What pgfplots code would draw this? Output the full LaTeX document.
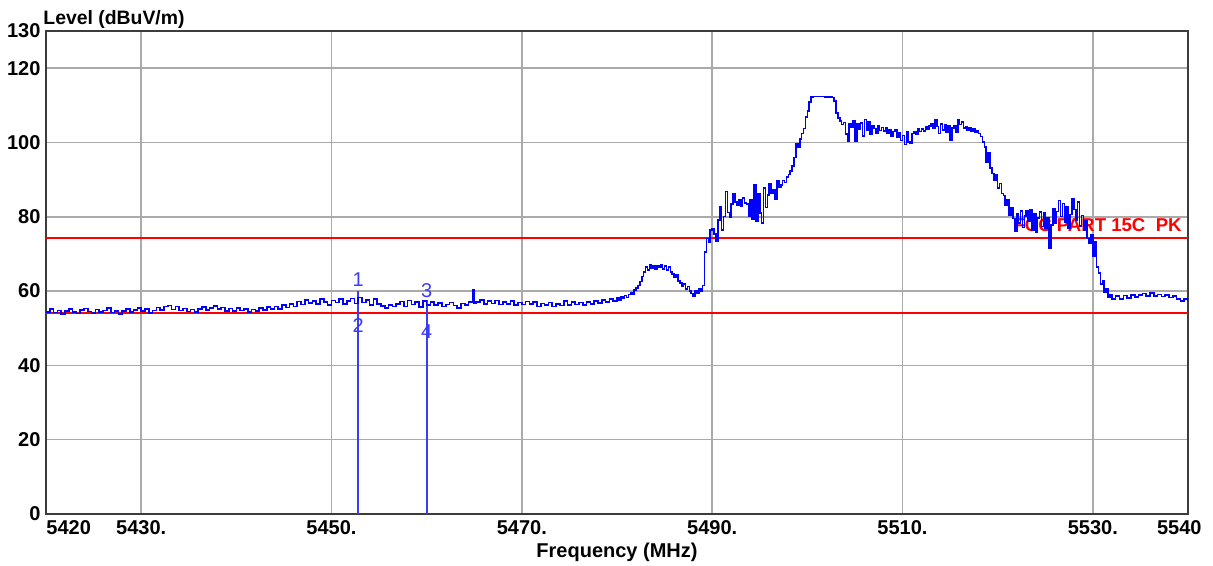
\documentclass[border=0pt]{standalone}
\usepackage{fontspec}
\setmainfont{Liberation Sans}
\usepackage{pgfplots}
\pgfplotsset{compat=1.18}
\definecolor{gridgray}{RGB}{170,170,170}
\definecolor{framegray}{RGB}{60,60,60}
\definecolor{trace}{RGB}{0,0,255}
\definecolor{mkblue}{RGB}{60,60,245}
\definecolor{limitred}{RGB}{255,0,0}
\begin{document}
\begin{tikzpicture}
\path[use as bounding box] (-23pt,-26pt) rectangle (583.5pt,257pt);
\begin{axis}[
  name=ax, at={(0,0)}, anchor=south west,
  scale only axis, width=571pt, height=241.5pt,
  xmin=5420, xmax=5540, ymin=0, ymax=130,
  xtick={5430,5450,5470,5490,5510,5530},
  xticklabels={5430.,5450.,5470.,5490.,5510.,5530.},
  ytick={0,20,40,60,80,100,120,130},
  major tick length=0pt,
  grid=major,
  major grid style={gridgray, line width=0.8pt},
  axis line style={framegray, line width=1.2pt},
  ticklabel style={font=\fontsize{10}{12}\selectfont\bfseries, text=black},
  yticklabel style={inner sep=0pt, xshift=-2.6pt},
  xticklabel style={inner sep=0pt, yshift=-3.2pt},
  /pgf/number format/assume math mode=true,
]
% limit lines
\addplot[limitred, line width=0.8pt] coordinates {(5420,74.3) (5540,74.3)};
\addplot[limitred, line width=0.8pt] coordinates {(5420,54.1) (5540,54.1)};
\node[anchor=base east, inner sep=0, text=limitred, font=\fontsize{9.3}{11}\selectfont\bfseries]
  at (axis cs:5540,76) [xshift=-3pt] {FCC PART 15C~~PK};
% markers
\addplot[mkblue, line width=1pt] coordinates {(5452.8,0) (5452.8,60)};
\addplot[mkblue, line width=1pt] coordinates {(5460.0,0) (5460.0,57.5)};
% measured trace
\addplot[trace, line width=0.8pt, const plot] coordinates {
(5420.0,54.3) (5420.4,55.1) (5420.8,54.2) (5421.2,54.8) (5421.6,53.9) (5422.0,54.6) (5422.4,55.2) (5422.8,54.4)
(5423.2,54.0) (5423.6,54.9) (5424.0,55.3) (5424.4,54.5) (5424.8,54.1) (5425.2,55.0) (5425.6,54.3) (5426.0,54.8)
(5426.4,55.4) (5426.8,54.2) (5427.2,54.7) (5427.6,53.9) (5428.0,54.6) (5428.4,55.1) (5428.8,54.4) (5429.2,54.9)
(5429.6,55.5) (5430.0,54.7) (5430.4,55.2) (5430.8,54.1) (5431.2,54.8) (5431.6,55.6) (5432.0,54.9) (5432.4,55.8)
(5432.8,56.1) (5433.2,55.0) (5433.6,55.9) (5434.0,54.8) (5434.4,55.3) (5434.8,54.5) (5435.2,55.0) (5435.6,54.4)
(5436.0,55.2) (5436.4,55.7) (5436.8,54.9) (5437.2,55.4) (5437.6,56.0) (5438.0,55.1) (5438.4,55.6) (5438.8,54.7)
(5439.2,55.3) (5439.6,54.6) (5440.0,55.5) (5440.4,54.8) (5440.8,55.2) (5441.2,54.3) (5441.6,55.0) (5442.0,54.6)
(5442.4,55.4) (5442.8,54.9) (5443.2,55.7) (5443.6,55.1) (5444.0,55.8) (5444.4,55.2) (5444.8,56.3) (5445.2,55.6)
(5445.6,56.5) (5446.0,55.9)
(5446.4,57.2) (5446.8,56.4) (5447.2,57.6) (5447.6,56.8) (5448.0,57.4) (5448.4,56.5) (5448.8,57.9) (5449.2,57.0)
(5449.6,56.3) (5450.0,57.5) (5450.4,56.9) (5450.8,57.8) (5451.2,56.6) (5451.6,57.3) (5452.0,58.0) (5452.4,56.7)
(5452.8,58.3) (5453.2,56.9) (5453.6,57.6) (5454.0,56.2) (5454.4,57.8) (5454.8,56.5) (5455.2,56.0) (5455.6,55.4)
(5456.0,56.3) (5456.4,55.8) (5456.8,56.6) (5457.2,57.2) (5457.6,55.9) (5458.0,57.5) (5458.4,56.4) (5458.8,57.1)
(5459.2,55.7) (5459.6,57.4) (5460.0,56.3) (5460.4,57.0) (5460.8,56.2) (5461.2,56.8) (5461.6,55.9) (5462.0,56.4)
(5462.4,56.9) (5462.8,56.1) (5463.2,55.5) (5463.6,56.7) (5464.0,56.3) (5464.4,57.0) (5464.8,60.4) (5465.0,56.8)
(5465.2,57.1) (5465.6,57.6) (5466.0,56.5) (5466.4,57.3) (5466.8,56.7) (5467.2,57.5) (5467.6,56.4) (5468.0,57.1) (5468.4,56.6)
(5468.8,57.4) (5469.2,56.2) (5469.6,56.9) (5470.0,56.4) (5470.4,57.2) (5470.8,56.5) (5471.2,57.0) (5471.6,55.9)
(5472.0,56.7) (5472.4,56.2) (5472.8,56.9) (5473.2,55.8) (5473.6,56.5) (5474.0,56.1) (5474.4,57.3) (5474.8,56.3)
(5475.2,57.0) (5475.6,56.4) (5476.0,56.9) (5476.4,56.2) (5476.8,57.1) (5477.2,56.5) (5477.6,57.4) (5478.0,56.8)
(5478.4,57.6) (5478.8,57.0) (5479.2,57.8) (5479.6,57.3) (5480.0,58.1)
(5480.2,57.6) (5480.4,58.4) (5480.6,58.0) (5480.8,58.8) (5481.0,58.3) (5481.2,59.1) (5481.4,59.6) (5481.6,59.2)
(5481.8,60.3) (5482.0,60.8) (5482.2,61.5) (5482.4,62.6) (5482.6,63.9) (5482.8,65.2) (5483.0,66.4) (5483.2,65.6)
(5483.4,67.0) (5483.6,66.1) (5483.8,66.7) (5484.0,65.8) (5484.2,66.9) (5484.4,66.3) (5484.6,67.2) (5484.8,66.0)
(5485.0,66.8) (5485.2,65.7) (5485.4,66.4) (5485.6,65.1) (5485.8,64.6) (5486.0,63.8) (5486.2,64.3) (5486.4,62.7)
(5486.6,62.1) (5486.8,61.4) (5487.0,61.9) (5487.2,60.6) (5487.4,61.2) (5487.6,60.0) (5487.8,59.3) (5488.0,58.6)
(5488.2,60.2) (5488.4,59.4) (5488.6,60.7) (5488.8,60.1) (5489.0,61.5)
(5489.2,70.5) (5489.4,74.2) (5489.6,73.1) (5489.8,76.4) (5490.0,76.8) (5490.2,75.3) (5490.4,73.4) (5490.6,79.2)
(5490.8,82.6) (5491.0,76.5) (5491.2,80.1) (5491.4,86.8) (5491.6,81.2) (5491.8,79.8) (5492.0,83.4) (5492.2,86.1)
(5492.4,84.0) (5492.6,83.2) (5492.8,84.6) (5493.0,82.9) (5493.2,85.1) (5493.4,83.7) (5493.6,83.4) (5493.8,80.2)
(5494.0,84.7) (5494.2,79.4) (5494.4,88.6) (5494.6,78.8) (5494.8,86.3) (5495.0,81.0) (5495.2,78.4) (5495.4,87.8)
(5495.6,82.5) (5495.8,85.9) (5496.0,88.9) (5496.2,86.4) (5496.4,87.3) (5496.6,84.8) (5496.8,89.7) (5497.0,87.9)
(5497.2,88.6) (5497.4,89.8) (5497.6,89.2) (5497.8,90.7) (5498.0,91.4) (5498.2,92.3) (5498.4,93.6) (5498.6,95.9)
(5498.8,99.6) (5499.0,98.8) (5499.2,100.9) (5499.4,102.4) (5499.6,103.8) (5499.8,106.8) (5500.0,108.4) (5500.2,110.9)
(5500.4,112.2) (5500.6,112.4) (5501.2,112.4) (5501.8,112.3) (5502.4,112.4) (5502.6,112.1) (5502.8,111.2) (5503.0,107.9)
(5503.2,106.6) (5503.4,105.7) (5503.6,104.8) (5503.8,105.4) (5504.0,102.2) (5504.2,100.3) (5504.4,105.1) (5504.6,104.2)
(5504.8,105.8) (5505.0,100.4) (5505.2,104.9) (5505.4,103.6) (5505.6,105.3) (5505.8,101.8) (5506.0,106.2) (5506.2,103.4)
(5506.4,105.5) (5506.6,102.1) (5506.8,104.6) (5507.0,103.8) (5507.2,102.4) (5507.4,104.5) (5507.6,103.2) (5507.8,104.0)
(5508.0,103.1) (5508.2,103.9) (5508.4,102.6) (5508.6,103.3) (5508.8,101.8) (5509.0,102.9) (5509.2,103.5) (5509.4,101.4)
(5509.6,102.6) (5509.8,100.5) (5510.0,101.9) (5510.2,99.4) (5510.4,102.8) (5510.6,100.2) (5510.8,99.8) (5511.0,102.4)
(5511.2,103.0) (5511.4,102.1) (5511.6,103.6) (5511.8,102.9) (5512.0,103.7) (5512.2,103.1) (5512.4,104.2) (5512.6,103.5)
(5512.8,104.4) (5513.0,105.1) (5513.2,103.8) (5513.4,106.0) (5513.6,104.3) (5513.8,102.4) (5514.0,104.9) (5514.2,103.3)
(5514.4,104.7) (5514.6,102.8) (5514.8,104.5) (5515.0,100.6) (5515.2,103.9) (5515.4,104.6) (5515.6,102.7) (5515.8,106.1)
(5516.0,104.8) (5516.2,105.5) (5516.4,103.9) (5516.6,104.3) (5516.8,103.4) (5517.0,103.9) (5517.2,103.0) (5517.4,103.6)
(5517.6,102.7) (5517.8,103.2) (5518.0,102.4) (5518.2,101.6) (5518.4,100.2) (5518.6,98.7) (5518.8,94.8) (5519.0,97.1)
(5519.2,93.2) (5519.4,91.6) (5519.6,89.9) (5519.8,91.2) (5520.0,87.8) (5520.2,88.9) (5520.4,86.3) (5520.6,85.7)
(5520.8,83.1) (5521.0,84.6) (5521.2,80.4) (5521.4,82.3) (5521.6,79.5) (5521.8,76.2) (5522.0,80.8) (5522.2,78.4)
(5522.4,81.5) (5522.6,77.1) (5522.8,80.2) (5523.0,81.6) (5523.2,78.9) (5523.4,81.9) (5523.6,76.4) (5523.8,80.7)
(5524.0,75.8) (5524.2,79.6) (5524.4,81.3) (5524.6,77.4) (5524.8,81.0) (5525.0,76.9) (5525.2,79.8) (5525.4,71.5)
(5525.6,77.8) (5525.8,82.2) (5526.0,78.3) (5526.2,81.4) (5526.4,84.4) (5526.6,80.1) (5526.8,83.6) (5527.0,78.5)
(5527.2,82.7) (5527.4,76.9) (5527.6,80.6) (5527.8,84.8) (5528.0,82.0) (5528.2,79.2) (5528.4,83.9) (5528.6,77.5)
(5528.8,80.3) (5529.0,76.4) (5529.2,78.8) (5529.4,74.1) (5529.6,72.8) (5529.8,75.2) (5530.0,69.4) (5530.2,73.3)
(5530.4,66.5) (5530.6,64.8) (5530.8,61.9) (5531.0,62.8) (5531.2,59.8) (5531.4,60.5) (5531.6,58.3) (5531.8,59.1)
(5532.0,57.8) (5532.4,58.6) (5532.8,57.9) (5533.2,58.8) (5533.6,58.2) (5534.0,59.0) (5534.4,58.4) (5534.8,58.9)
(5535.2,59.4) (5535.6,58.6) (5536.0,59.5) (5536.4,58.7) (5536.8,59.1) (5537.2,58.5) (5537.6,59.0) (5538.0,58.3)
(5538.4,58.7) (5538.8,57.8) (5539.2,57.4) (5539.6,57.9) (5540.0,57.2)
};
% marker labels
\node[text=mkblue, font=\fontsize{10}{12}\selectfont] at (axis cs:5452.8,63.2) {1};
\node[text=mkblue, font=\fontsize{10}{12}\selectfont] at (axis cs:5452.8,50.7) {2};
\node[text=mkblue, font=\fontsize{10}{12}\selectfont] at (axis cs:5460.0,60.1) {3};
\node[text=mkblue, font=\fontsize{10}{12}\selectfont] at (axis cs:5460.0,49.2) {4};
\end{axis}
% axis titles and end labels, outside the clipped plot area
\node[anchor=base west, inner sep=0, font=\fontsize{9.7}{12}\selectfont\bfseries]
  at (ax.north west) [xshift=-1.5pt, yshift=3pt] {Level (dBuV/m)};
\node[anchor=base, inner sep=0, font=\fontsize{10}{12}\selectfont\bfseries]
  at (ax.south) [yshift=-22pt] {Frequency (MHz)};
\node[anchor=north west, inner sep=0, font=\fontsize{10}{12}\selectfont\bfseries]
  at (ax.south west) [yshift=-3.2pt] {5420};
\node[anchor=north east, inner sep=0, font=\fontsize{10}{12}\selectfont\bfseries]
  at (ax.south east) [xshift=7pt, yshift=-3.2pt] {5540};
\end{tikzpicture}
\end{document}
